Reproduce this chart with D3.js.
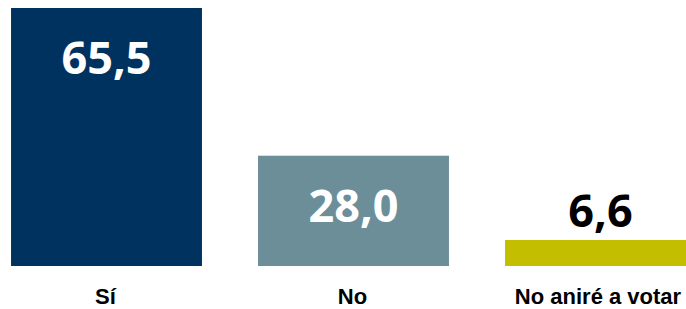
<!DOCTYPE html>
<html>
<head>
<meta charset="utf-8">
<script src="https://cdn.jsdelivr.net/npm/d3@7"></script>
<style>
  body { margin: 0; background: #fff; }
  .value { font-family: "Open Sans", sans-serif; font-weight: 700; font-size: 45px; }
  .cat { font-family: "Liberation Sans", Arial, sans-serif; font-weight: 700; font-size: 22px; fill: #000; }
</style>
</head>
<body>
<svg id="chart"></svg>
<script>
// Data
const categories = ['Sí', 'No', 'No aniré a votar'];
const values = [65.5, 28.0, 6.6];
const barColors = ['#00325F', '#6C8E99', '#C4BE00'];

const width = 686;
const height = 309;

const svg = d3.select('#chart').attr('width', width).attr('height', height);

// Scales
const x = d3.scaleBand()
  .domain(categories)
  .range([-17, 724])
  .paddingInner(0.227)
  .paddingOuter(0.1135);

const y = d3.scaleLinear()
  .domain([0, 65.5])
  .range([266, 8]);

// Bars
svg.selectAll('.bar')
  .data(categories)
  .enter()
  .append('rect')
  .attr('class', 'bar')
  .attr('x', d => x(d))
  .attr('y', (d, i) => y(values[i]))
  .attr('width', x.bandwidth())
  .attr('height', (d, i) => y(0) - y(values[i]))
  .attr('fill', (d, i) => barColors[i]);

// Value labels (inside tall bars, above short one)
const fmt = v => d3.format('.1f')(v).replace('.', ',');
svg.selectAll('.value')
  .data(categories)
  .enter()
  .append('text')
  .attr('class', 'value')
  .attr('text-anchor', 'middle')
  .attr('x', d => x(d) + x.bandwidth() / 2)
  .attr('y', (d, i) => values[i] > 15 ? y(values[i]) + 66 : y(values[i]) - 13)
  .attr('fill', (d, i) => values[i] > 15 ? '#fff' : '#000')
  .text((d, i) => fmt(values[i]));

// Category labels
svg.selectAll('.cat')
  .data(categories)
  .enter()
  .append('text')
  .attr('class', 'cat')
  .attr('text-anchor', 'middle')
  .attr('x', d => Math.min(x(d) + x.bandwidth() / 2 - 1, 598))
  .attr('y', 304)
  .text(d => d);
</script>
</body>
</html>
